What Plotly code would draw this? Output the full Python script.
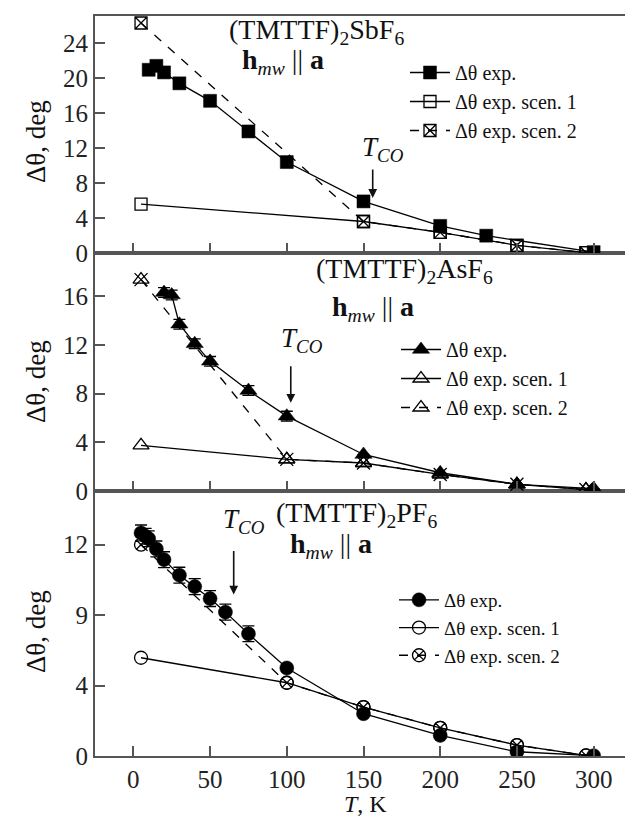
import plotly.graph_objects as go

# ---------------- data ----------------
# (TMTTF)2SbF6
T_sb_exp = [10, 15, 20, 30, 50, 75, 100, 150, 200, 230, 300]
sb_exp = [20.95, 21.4, 20.65, 19.4, 17.4, 13.9, 10.4, 5.9, 3.1, 1.98, 0.1]
T_sb_sc = [5, 150, 200, 250, 295]
sb_sc1 = [5.6, 3.6, 2.36, 0.88, 0.05]
sb_sc2 = [26.3, 3.6, 2.36, 0.88, 0.05]

# (TMTTF)2AsF6
T_as_exp = [20, 25, 30, 40, 50, 75, 100, 150, 200, 250, 300]
as_exp = [16.3, 16.1, 13.7, 12.1, 10.65, 8.25, 6.15, 3.0, 1.5, 0.55, 0.2]
as_err = [0.4, 0.4, 0.4, 0.4, 0.4, 0.4, 0.4, 0, 0, 0, 0]
T_as_sc = [5, 100, 150, 200, 250, 295]
as_sc1 = [3.75, 2.6, 2.3, 1.36, 0.55, 0.12]
as_sc2 = [17.36, 2.6, 2.3, 1.36, 0.55, 0.12]

# (TMTTF)2PF6
T_pf_exp = [5, 8, 10, 15, 20, 30, 40, 50, 60, 75, 100, 150, 200, 250, 300]
pf_exp = [12.67, 12.48, 12.34, 11.76, 11.15, 10.27, 9.62, 8.94, 8.17, 6.94, 5.0, 2.4, 1.17, 0.24, 0.02]
pf_err = [0.45, 0.45, 0.45, 0.45, 0.45, 0.45, 0.45, 0.45, 0.45, 0.45, 0, 0, 0, 0, 0]
T_pf_sc = [5, 100, 150, 200, 250, 295]
pf_sc1 = [5.58, 4.16, 2.78, 1.6, 0.62, 0.03]
pf_sc2 = [12.0, 4.16, 2.78, 1.6, 0.62, 0.03]

x_ticks = [0, 50, 100, 150, 200, 250, 300]
sb_yticks = [0, 4, 8, 12, 16, 20, 24]
as_yticks = [0, 4, 8, 12, 16]
pf_yticks = [0, 4, 8, 12]
pf_yticktext = ["0", "4", "9", "12"]

names = ["Δθ exp.", "Δθ exp. scen. 1", "Δθ exp. scen. 2"]
T_co = [156, 102.6, 65.4]
T_co_y = [6.3, 7.24, 9.17]

# ---------------- layout helpers ----------------
W, H = 633, 816
L, R, TOP, BOT = 87, 624, 8, 748
FONT = "Liberation Serif, Times New Roman, Times, serif"

def px(x):
    return (x - L) / (R - L)

def py(y):
    return (BOT - y) / (BOT - TOP)

fig = go.Figure()
LW = 1.3
K = "black"

def add_panel(xa, ya, leg, T_exp, exp, err, T_sc, sc1, sc2, sym, sym1, sym2, size):
    fig.add_trace(go.Scatter(x=T_sc, y=sc2, mode="lines+markers", name=names[2],
                             line=dict(color=K, width=LW, dash="dash"),
                             marker=dict(symbol=sym2, size=size - 1, color=K,
                                         line=dict(width=1.3, color=K)),
                             xaxis=xa, yaxis=ya, legend=leg, legendrank=3))
    fig.add_trace(go.Scatter(x=T_sc, y=sc1, mode="lines+markers", name=names[1],
                             line=dict(color=K, width=LW),
                             marker=dict(symbol=sym1, size=size - 1, color=K,
                                         line=dict(width=1.3, color=K)),
                             xaxis=xa, yaxis=ya, legend=leg, legendrank=2))
    ey = None
    if err is not None:
        ey = dict(type="data", array=err, visible=True, color=K, thickness=1.3, width=6)
    fig.add_trace(go.Scatter(x=T_exp, y=exp, mode="lines+markers", name=names[0],
                             line=dict(color=K, width=LW),
                             marker=dict(symbol=sym, size=size, color=K,
                                         line=dict(width=0.5, color=K)),
                             error_y=ey,
                             xaxis=xa, yaxis=ya, legend=leg, legendrank=1))

add_panel("x3", "y3", "legend", T_sb_exp, sb_exp, None, T_sb_sc, sb_sc1, sb_sc2,
          "square", "square-open", "square-x-open", 13)
add_panel("x2", "y2", "legend2", T_as_exp, as_exp, as_err, T_as_sc, as_sc1, as_sc2,
          "triangle-up", "triangle-up-open", "triangle-up-open", 15)
fig.add_trace(go.Scatter(x=T_as_sc, y=as_sc2, mode="markers", showlegend=False,
                         marker=dict(symbol="x-thin-open", size=13, color=K,
                                     line=dict(width=1.3, color=K)),
                         xaxis="x2", yaxis="y2"))
add_panel("x", "y", "legend3", T_pf_exp, pf_exp, pf_err, T_pf_sc, pf_sc1, pf_sc2,
          "circle", "circle-open", "circle-x-open", 14)

AX = "#555555"
tickfont = dict(family=FONT, size=25, color="#222")
xcommon = dict(range=[-25, 325], tickvals=x_ticks, ticks="inside", ticklen=10,
               tickwidth=1.5, tickcolor=AX, showline=True, linecolor=AX, linewidth=2,
               mirror=True, showgrid=False, zeroline=False, tickfont=tickfont)
ycommon = dict(ticks="inside", ticklen=10, tickwidth=1.5, tickcolor=AX, showline=True,
               linecolor=AX, linewidth=2, mirror=True, showgrid=False, zeroline=False,
               tickfont=tickfont)

d_top = [py(245), 1.0]
d_mid = [py(483), py(245)]
d_bot = [0.0, py(483)]

fig.update_layout(
    xaxis=dict(**xcommon, anchor="y", showticklabels=True),
    xaxis2=dict(**xcommon, anchor="y2", showticklabels=False),
    xaxis3=dict(**xcommon, anchor="y3", showticklabels=False),
    yaxis=dict(**ycommon, domain=d_bot, anchor="x", range=[0, 15.05],
               tickvals=pf_yticks, ticktext=pf_yticktext),
    yaxis2=dict(**ycommon, domain=d_mid, anchor="x2", range=[0, 19.55],
                tickvals=as_yticks),
    yaxis3=dict(**ycommon, domain=d_top, anchor="x3", range=[0, 27.1],
                tickvals=sb_yticks),
)

legcommon = dict(bgcolor="rgba(0,0,0,0)", borderwidth=0,
                 xanchor="left", yanchor="top", tracegroupgap=0, itemwidth=40)
fig.update_layout(
    legend=dict(**legcommon, x=px(397), y=py(45),
                font=dict(family=FONT, size=20, color="#111")),
    legend2=dict(**legcommon, x=px(388), y=py(322),
                 font=dict(family=FONT, size=20, color="#111")),
    legend3=dict(**legcommon, x=px(386), y=py(573),
                 font=dict(family=FONT, size=19, color="#111")),
)

ann = []
def text(x, y, s, size=25, angle=0):
    ann.append(dict(x=px(x), y=py(y), xref="paper", yref="paper", text=s,
                    showarrow=False, textangle=angle,
                    font=dict(family=FONT, size=size, color="#111"),
                    xanchor="center", yanchor="middle"))

TS = 28
text(308, 23, "(TMTTF)<sub>2</sub>SbF<sub>6</sub>", TS)
text(275, 53, "<b>h</b><sub><i>mw</i></sub> || <b>a</b>", TS)
text(397, 262, "(TMTTF)<sub>2</sub>AsF<sub>6</sub>", TS)
text(365, 300, "<b>h</b><sub><i>mw</i></sub> || <b>a</b>", TS)
text(348, 506, "(TMTTF)<sub>2</sub>PF<sub>6</sub>", TS)
text(323, 537, "<b>h</b><sub><i>mw</i></sub> || <b>a</b>", TS)

text(375, 141, "<i>T</i><sub><i>CO</i></sub>", 27)
text(294, 332, "<i>T</i><sub><i>CO</i></sub>", 27)
text(236, 513, "<i>T</i><sub><i>CO</i></sub>", 27)

for yc in (134, 374, 624):
    text(28, yc, "Δθ, deg", size=27, angle=-90)
text(357, 796, "<i>T</i>, K", size=24)

for (xa, ya, xv, yv, alen) in (("x3", "y3", T_co[0], T_co_y[0], 30),
                               ("x2", "y2", T_co[1], T_co_y[1], 38),
                               ("x", "y", T_co[2], T_co_y[2], 45)):
    ann.append(dict(x=xv, y=yv, xref=xa, yref=ya, text="", showarrow=True,
                    ax=0, ay=-alen, axref="pixel", ayref="pixel",
                    arrowhead=2, arrowsize=1.1, arrowwidth=1.6, arrowcolor="#111",
                    standoff=0))

fig.update_layout(
    annotations=ann,
    width=W, height=H,
    margin=dict(l=L, r=W - R, t=TOP, b=H - BOT, autoexpand=False),
    paper_bgcolor="white", plot_bgcolor="white",
    font=dict(family=FONT, color="#111"),
)

fig.write_html("out.html")
